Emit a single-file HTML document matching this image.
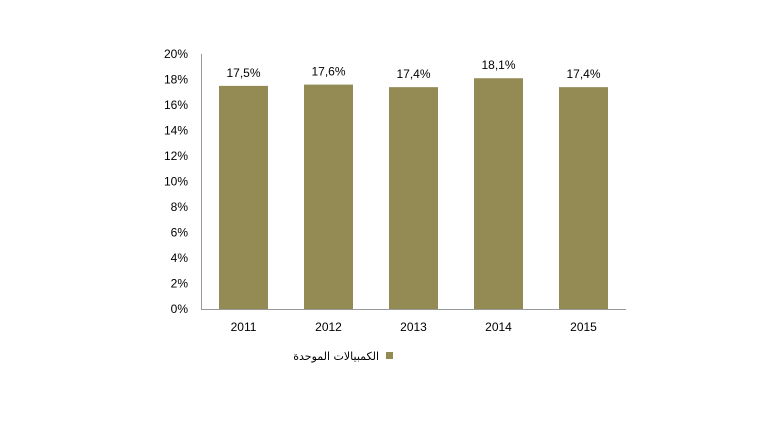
<!DOCTYPE html>
<html><head><meta charset="utf-8"><style>
body{margin:0;background:#fff;}
text{font-family:"Liberation Sans","DejaVu Sans",sans-serif;font-size:12px;fill:#000;}
</style></head><body>
<svg id="chart" width="784" height="417" xmlns="http://www.w3.org/2000/svg">
<g id="yaxis"></g>
<g id="bars"></g>
<line x1="201.5" y1="54" x2="201.5" y2="309" stroke="#999" stroke-width="1"/>
<line x1="201" y1="309.5" x2="626" y2="309.5" stroke="#999" stroke-width="1"/>
<g>
<rect x="386" y="352" width="7" height="7" fill="#948A54"/>
<text x="379" y="360" text-anchor="end" style="font-family:'DejaVu Sans',sans-serif;font-size:11px">الكمبيالات الموحدة</text>
</g>
</svg>
<script>
const categories=["2011","2012","2013","2014","2015"];
const values=[17.5,17.6,17.4,18.1,17.4];
const valueLabels=["17,5%","17,6%","17,4%","18,1%","17,4%"];
const yTicks=[0,2,4,6,8,10,12,14,16,18,20];
const NS="http://www.w3.org/2000/svg";
const x0=201,cw=85,bw=49,yBase=309,yTop=54,yMax=20;
const y=v=>yBase-v/yMax*(yBase-yTop);
const xc=i=>x0+cw*(i+0.5);
const ya=document.getElementById('yaxis'),bg=document.getElementById('bars');
yTicks.forEach(t=>{const e=document.createElementNS(NS,'text');


e.setAttribute('x',188);e.setAttribute('y',y(t)+4);e.setAttribute('text-anchor','end');e.textContent=t+'%';ya.appendChild(e);});
categories.forEach((c,i)=>{
const r=document.createElementNS(NS,'rect');


r.setAttribute('x',xc(i)-bw/2);r.setAttribute('y',y(values[i]));r.setAttribute('width',bw);r.setAttribute('height',yBase-y(values[i]));r.setAttribute('fill','#948A54');bg.appendChild(r);
const l=document.createElementNS(NS,'text');


l.setAttribute('x',xc(i));l.setAttribute('y',y(values[i])-9);l.setAttribute('text-anchor','middle');l.textContent=valueLabels[i];bg.appendChild(l);
const xl=document.createElementNS(NS,'text');


xl.setAttribute('x',xc(i));xl.setAttribute('y',331);xl.setAttribute('text-anchor','middle');xl.textContent=c;bg.appendChild(xl);
});
</script>
</body></html>
